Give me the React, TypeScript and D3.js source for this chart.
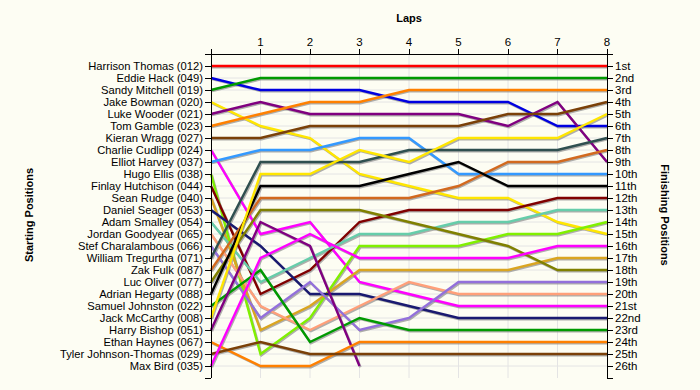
import * as d3 from "d3";

const laps = [0, 1, 2, 3, 4, 5, 6, 7, 8];

const drivers = [
  "Harrison Thomas (012)",
  "Eddie Hack (049)",
  "Sandy Mitchell (019)",
  "Jake Bowman (020)",
  "Luke Wooder (021)",
  "Tom Gamble (023)",
  "Kieran Wragg (027)",
  "Charlie Cudlipp (024)",
  "Elliot Harvey (037)",
  "Hugo Ellis (038)",
  "Finlay Hutchison (044)",
  "Sean Rudge (040)",
  "Daniel Seager (053)",
  "Adam Smalley (054)",
  "Jordan Goodyear (065)",
  "Stef Charalambous (066)",
  "William Tregurtha (071)",
  "Zak Fulk (087)",
  "Luc Oliver (077)",
  "Adrian Hegarty (088)",
  "Samuel Johnston (022)",
  "Jack McCarthy (008)",
  "Harry Bishop (051)",
  "Ethan Haynes (067)",
  "Tyler Johnson-Thomas (029)",
  "Max Bird (035)",
];

const lineColors = [
  "#ff0000", "#0000e0", "#009a00", "#ffe600", "#800080", "#ff8000",
  "#7a4008", "#ff00ff", "#3399ff", "#80f000", "#800000", "#daa520",
  "#191970", "#66cdaa", "#ffa07a", "#9370db", "#2f4f4f", "#d2691e",
  "#808000", "#000000", "#009a00", "#ffe600", "#800080", "#ff8000",
  "#7a4008", "#ff00ff",
];

// position of each driver at start (lap 0) and after laps 1..8
const lapPositions: number[][] = [
  [1, 1, 1, 1, 1, 1, 1, 1, 1],
  [2, 3, 3, 3, 4, 4, 4, 6, 6],
  [3, 2, 2, 2, 2, 2, 2, 2, 2],
  [4, 6, 7, 10, 11, 12, 12, 14, 15],
  [5, 4, 5, 5, 5, 5, 6, 4, 9],
  [6, 5, 4, 4, 3, 3, 3, 3, 3],
  [7, 7, 6, 6, 6, 6, 5, 5, 4],
  [8, 15, 14, 19, 20, 21, 21, 21, 21],
  [9, 8, 8, 7, 7, 10, 10, 10, 10],
  [10, 25, 22, 16, 16, 16, 15, 15, 14],
  [11, 20, 18, 14, 13, 13, 13, 12, 12],
  [12, 23, 21, 18, 18, 18, 18, 17, 17],
  [13, 16, 20, 20, 21, 22, 22, 22, 22],
  [14, 19, 17, 15, 15, 14, 14, 13, 13],
  [15, 21, 23, 21, 19, 20, 20, 20, 20],
  [16, 22, 19, 23, 22, 19, 19, 19, 19],
  [17, 9, 9, 9, 8, 8, 8, 8, 7],
  [18, 12, 12, 12, 12, 11, 9, 9, 8],
  [19, 13, 13, 13, 14, 15, 16, 18, 18],
  [20, 11, 11, 11, 10, 9, 11, 11, 11],
  [21, 18, 24, 22, 23, 23, 23, 23, 23],
  [22, 10, 10, 8, 9, 7, 7, 7, 5],
  [23, 14, 16, 26],
  [24, 26, 26, 24, 24, 24, 24, 24, 24],
  [25, 24, 25, 25, 25, 25, 25, 25, 25],
  [26, 17, 15, 17, 17, 17, 17, 16, 16],
];

const finishLabels = [
  "1st", "2nd", "3rd", "4th", "5th", "6th", "7th", "8th", "9th", "10th",
  "11th", "12th", "13th", "14th", "15th", "16th", "17th", "18th", "19th",
  "20th", "21st", "22nd", "23rd", "24th", "25th", "26th",
];

const W = 700;
const H = 390;
const font = "'Liberation Sans', Arial, sans-serif";

export default function App() {
  const x = d3.scaleLinear().domain([0, 8]).range([211, 607]);
  const y = d3.scaleLinear().domain([0, 27]).range([54, 378]);
  const rows = d3.range(1, drivers.length + 1);

  const line = d3
    .line<number>()
    .x((_, i) => x(laps[i]))
    .y((d) => y(d));

  const [x0, x1] = x.range();
  const [y0, y1] = y.range();

  return (
    <svg
      width={W}
      height={H}
      style={{ position: "absolute", left: 0, top: 0 }}
      fontFamily={font}
    >
      <rect width={W} height={H} fill="#fdfdf3" />

      {/* grid */}
      {rows.map((r) => (
        <line key={"h" + r} x1={x0} x2={x1} y1={y(r)} y2={y(r)} stroke="#e4e4e4" />
      ))}
      {laps.slice(1, -1).map((l) => (
        <line key={"v" + l} x1={x(l)} x2={x(l)} y1={y0} y2={y1} stroke="#e4e4e4" />
      ))}

      {/* shadows then lines */}
      {lapPositions.map((p, i) => (
        <path
          key={"s" + i}
          d={line(p) || ""}
          transform="translate(1,1.2)"
          fill="none"
          stroke="#8c8c8c"
          strokeOpacity={0.7}
          strokeWidth={2.4}
        />
      ))}
      {lapPositions.map((p, i) => (
        <path
          key={"l" + i}
          d={line(p) || ""}
          fill="none"
          stroke={lineColors[i]}
          strokeWidth={2.4}
        />
      ))}

      {/* axes */}
      <g stroke="#000" strokeWidth={1} shapeRendering="crispEdges">
        <line x1={x0} x2={x1} y1={y0} y2={y0} />
        <line x1={x0} x2={x0} y1={y0} y2={y1} />
        <line x1={x1} x2={x1} y1={y0} y2={y1} />
        {laps.map((l) => (
          <line key={"tt" + l} x1={x(l)} x2={x(l)} y1={y0} y2={y0 - 5} />
        ))}
        {[0, ...rows, 27].map((r) => (
          <g key={"lt" + r}>
            <line x1={x0 - 6} x2={x0} y1={y(r)} y2={y(r)} />
            <line x1={x1} x2={x1 + 6} y1={y(r)} y2={y(r)} />
          </g>
        ))}
      </g>

      {/* lap labels */}
      {laps.slice(1).map((l) => (
        <text key={"lx" + l} x={x(l)} y={y0 - 8} fontSize={11.5} textAnchor="middle" fill="#000">
          {l}
        </text>
      ))}

      {/* starting labels */}
      {drivers.map((d, i) => (
        <text
          key={"d" + i}
          x={x0 - 8}
          y={y(i + 1)}
          dy="0.35em"
          fontSize={11.2}
          textAnchor="end"
          fill="#000"
        >
          {d}
        </text>
      ))}

      {/* finishing labels */}
      {finishLabels.map((f, i) => (
        <text key={"f" + i} x={x1 + 8} y={y(i + 1)} dy="0.35em" fontSize={11.5} fill="#000">
          {f}
        </text>
      ))}

      {/* titles */}
      <text x={409} y={22} textAnchor="middle" fontSize={11} fontWeight="bold">
        Laps
      </text>
      <text
        transform="translate(33,215) rotate(-90)"
        textAnchor="middle"
        fontSize={11}
        fontWeight="bold"
      >
        Starting Positions
      </text>
      <text
        transform="translate(661,215) rotate(90)"
        textAnchor="middle"
        fontSize={11}
        fontWeight="bold"
      >
        Finishing Positions
      </text>
    </svg>
  );
}
